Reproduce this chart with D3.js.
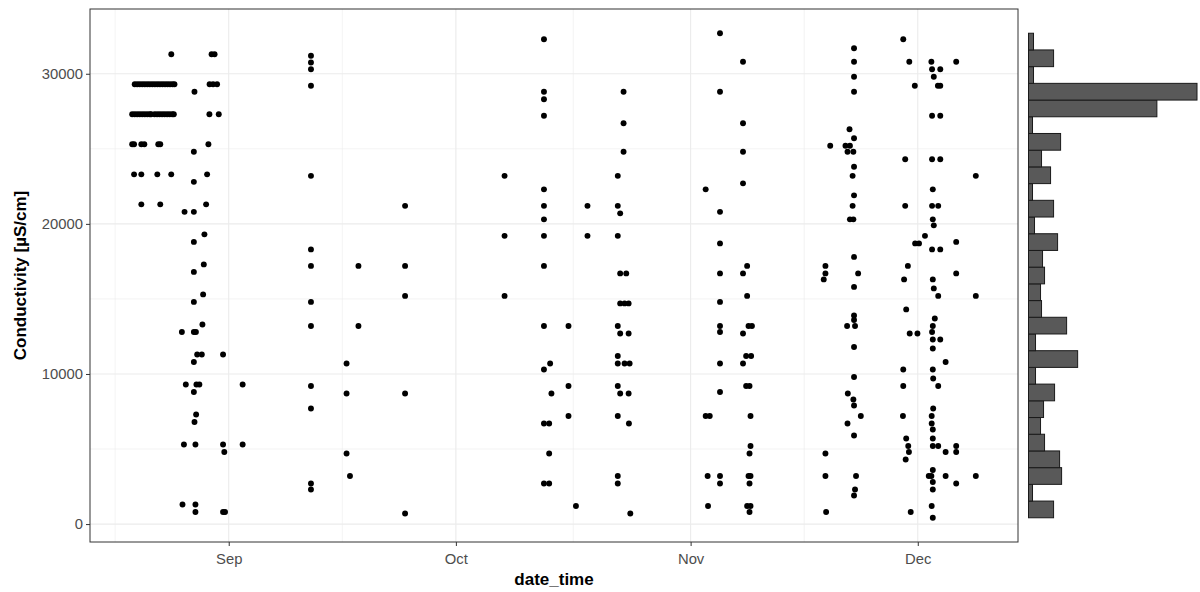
<!DOCTYPE html>
<html>
<head>
<meta charset="utf-8">
<script src="https://cdn.jsdelivr.net/npm/d3@7"></script>
<style>
  body { margin: 0; background: #fff; }
  svg { display: block; }
  text { font-family: "Liberation Sans", Arial, Helvetica, sans-serif; }
</style>
</head>
<body>
<svg id="chart" width="1200" height="592"></svg>
<script>
// Conductivity readings [date_time (UTC, "MM-DD HH:MM"), µS/cm], one list per month
const augReadings = [
  ["08-19 06:00", 27300], ["08-19 14:00", 27300], ["08-19 22:00", 27300], ["08-20 06:00", 27300],
  ["08-20 14:00", 27300], ["08-20 22:00", 27300], ["08-21 06:00", 27300], ["08-21 14:00", 27300],
  ["08-21 18:00", 27300], ["08-22 05:00", 27300], ["08-22 13:00", 27300], ["08-22 21:00", 27300],
  ["08-23 05:00", 27300], ["08-23 13:00", 27300], ["08-23 21:00", 27300], ["08-24 05:00", 27300],
  ["08-24 13:00", 27300], ["08-24 18:00", 27300], ["08-29 10:45", 27300], ["08-30 16:25", 27300],
  ["08-19 14:00", 29300], ["08-19 22:00", 29300], ["08-20 06:00", 29300], ["08-20 14:00", 29300],
  ["08-20 22:00", 29300], ["08-21 06:00", 29300], ["08-21 14:00", 29300], ["08-21 22:00", 29300],
  ["08-22 06:00", 29300], ["08-22 14:00", 29300], ["08-22 22:00", 29300], ["08-23 06:00", 29300],
  ["08-23 14:00", 29300], ["08-23 22:00", 29300], ["08-24 06:00", 29300], ["08-24 14:00", 29300],
  ["08-24 20:00", 29300], ["08-29 11:25", 29300], ["08-29 22:25", 29300], ["08-30 11:05", 29300],
  ["08-24 10:00", 31300], ["08-29 17:40", 31300], ["08-30 03:10", 31300],
  ["08-27 11:30", 28800],
  ["08-19 06:00", 25300], ["08-19 12:00", 25300], ["08-20 11:00", 25300], ["08-20 20:30", 25300],
  ["08-22 16:40", 25300], ["08-22 23:00", 25300], ["08-29 07:35", 25300],
  ["08-27 09:30", 24800],
  ["08-19 12:00", 23300], ["08-20 11:00", 23300], ["08-22 13:40", 23300], ["08-24 09:50", 23300],
  ["08-29 03:30", 23300],
  ["08-27 09:30", 22800],
  ["08-20 11:00", 21300], ["08-22 23:00", 21300], ["08-29 00:20", 21300],
  ["08-26 04:00", 20800], ["08-27 09:30", 20800],
  ["08-28 19:00", 19300], ["08-27 09:30", 18800], ["08-28 17:00", 17300], ["08-27 09:30", 16800],
  ["08-28 14:50", 15300], ["08-27 09:30", 14800], ["08-28 12:40", 13300],
  ["08-25 19:30", 12800], ["08-27 09:30", 12800], ["08-27 16:00", 12800],
  ["08-27 20:00", 11300], ["08-28 10:45", 11300], ["08-31 06:00", 11300],
  ["08-27 09:30", 10800],
  ["08-26 08:00", 9300], ["08-27 17:40", 9300], ["08-28 03:00", 9300],
  ["08-27 09:30", 8800], ["08-27 16:40", 7300], ["08-27 11:30", 6800],
  ["08-26 02:00", 5300], ["08-27 14:30", 5300], ["08-31 06:00", 5300],
  ["08-31 10:00", 4800],
  ["08-25 21:30", 1300], ["08-27 14:30", 1300],
  ["08-27 14:30", 800], ["08-31 06:00", 800], ["08-31 12:20", 800]
];

const sepReadings = [
  ["09-02 20:10", 9300], ["09-02 20:10", 5300],
  ["09-11 20:40", 31200], ["09-11 20:40", 30750], ["09-11 20:40", 30300], ["09-11 20:40", 29200],
  ["09-11 20:40", 23200], ["09-11 20:40", 18300], ["09-11 20:40", 17200], ["09-11 20:40", 14800],
  ["09-11 20:40", 13200], ["09-11 20:40", 9200], ["09-11 20:40", 7700], ["09-11 20:40", 2700],
  ["09-11 20:40", 2300],
  ["09-16 13:30", 10700], ["09-16 13:30", 8700], ["09-16 13:30", 4700],
  ["09-17 00:20", 3200],
  ["09-18 03:10", 17200], ["09-18 03:10", 13200],
  ["09-24 07:00", 21200], ["09-24 07:00", 17200], ["09-24 07:00", 15200], ["09-24 07:00", 8700],
  ["09-24 07:00", 700]
];

const octReadings = [
  ["10-07 10:20", 23200], ["10-07 10:20", 19200], ["10-07 10:20", 15200],
  ["10-12 15:10", 32300], ["10-12 15:10", 28800], ["10-12 15:10", 28300], ["10-12 15:10", 27200],
  ["10-12 15:10", 22300], ["10-12 15:10", 21200], ["10-12 15:10", 20300], ["10-12 15:10", 19200],
  ["10-12 15:10", 17200], ["10-12 15:10", 13200], ["10-12 15:10", 10300], ["10-12 15:10", 6700],
  ["10-12 15:10", 2700],
  ["10-13 07:40", 6700], ["10-13 07:40", 4700], ["10-13 07:40", 2700],
  ["10-13 10:45", 10700], ["10-13 14:50", 8700],
  ["10-15 20:55", 13200], ["10-15 20:55", 9200], ["10-15 20:55", 7200],
  ["10-16 20:35", 1200],
  ["10-18 09:10", 21200], ["10-18 09:10", 19200],
  ["10-22 09:10", 23200], ["10-22 09:10", 21200], ["10-22 09:10", 19200], ["10-22 09:10", 13200],
  ["10-22 09:10", 11200], ["10-22 09:10", 10700], ["10-22 09:10", 9200], ["10-22 09:10", 7200],
  ["10-22 09:10", 3200], ["10-22 09:10", 2700],
  ["10-22 16:45", 20700], ["10-22 16:45", 16700], ["10-22 16:45", 14700], ["10-22 16:45", 12700],
  ["10-22 16:45", 8700],
  ["10-23 03:30", 28800], ["10-23 03:30", 26700], ["10-23 03:30", 24800],
  ["10-23 06:40", 14700], ["10-23 06:40", 10700], ["10-23 12:00", 16700],
  ["10-23 19:35", 14700], ["10-23 19:35", 12700], ["10-23 19:35", 8700],
  ["10-23 20:30", 6700], ["10-23 22:40", 10700], ["10-24 00:50", 700]
];

const novReadings = [
  ["11-02 23:45", 22300], ["11-02 23:45", 7200], ["11-03 06:00", 3200], ["11-03 07:15", 1200],
  ["11-03 12:40", 7200],
  ["11-04 21:10", 32700], ["11-04 21:10", 28800], ["11-04 21:10", 20800], ["11-04 21:10", 18700],
  ["11-04 21:10", 16700], ["11-04 21:10", 14800], ["11-04 21:10", 13200], ["11-04 21:10", 12800],
  ["11-04 21:10", 10700], ["11-04 21:10", 8800], ["11-04 21:10", 3200], ["11-04 21:10", 2700],
  ["11-07 22:05", 30800], ["11-07 22:05", 26700], ["11-07 22:05", 24800], ["11-07 22:05", 22700],
  ["11-07 22:05", 16700], ["11-07 22:05", 12700], ["11-07 22:05", 10700],
  ["11-08 08:00", 11200], ["11-08 08:00", 9200],
  ["11-08 11:10", 17200], ["11-08 11:10", 15200], ["11-08 11:10", 1200],
  ["11-08 15:35", 13200], ["11-08 15:35", 3200],
  ["11-08 18:45", 9200], ["11-08 18:45", 4700], ["11-08 18:45", 2700], ["11-08 18:45", 800],
  ["11-08 21:55", 7200], ["11-08 21:55", 5200], ["11-08 21:55", 3200], ["11-08 21:55", 1200],
  ["11-08 23:50", 11200], ["11-09 02:20", 13200],
  ["11-18 14:00", 16300],
  ["11-18 19:20", 17200], ["11-18 19:20", 16700], ["11-18 19:20", 4700], ["11-18 19:20", 3200],
  ["11-18 21:30", 800],
  ["11-19 10:30", 25200],
  ["11-21 10:50", 25200], ["11-21 16:00", 13200], ["11-21 17:20", 24800], ["11-21 17:20", 6700],
  ["11-21 18:20", 8700], ["11-21 23:40", 26300],
  ["11-22 01:00", 25200], ["11-22 01:00", 20300],
  ["11-22 09:30", 23200], ["11-22 09:30", 21200],
  ["11-22 11:50", 24800], ["11-22 11:50", 20300], ["11-22 11:50", 8300],
  ["11-22 14:00", 31700], ["11-22 14:00", 30800], ["11-22 14:00", 29800], ["11-22 14:00", 28800],
  ["11-22 14:00", 25700], ["11-22 14:00", 23800], ["11-22 14:00", 21900], ["11-22 14:00", 17800],
  ["11-22 14:00", 15800], ["11-22 14:00", 13900], ["11-22 14:00", 13600], ["11-22 14:00", 11800],
  ["11-22 14:00", 9800], ["11-22 14:00", 7900], ["11-22 14:00", 5900], ["11-22 14:00", 1900],
  ["11-22 17:10", 13200], ["11-22 17:10", 2300],
  ["11-22 20:20", 3200], ["11-23 03:00", 16700], ["11-23 11:30", 7200],
  ["11-29 01:00", 7200],
  ["11-29 02:00", 32300], ["11-29 02:00", 10300], ["11-29 02:00", 9200],
  ["11-29 04:40", 16300],
  ["11-29 08:10", 24300], ["11-29 08:10", 21200],
  ["11-29 09:40", 4300],
  ["11-29 11:20", 14300], ["11-29 11:20", 5700],
  ["11-29 16:40", 17200], ["11-29 17:50", 5200], ["11-29 20:00", 4800], ["11-29 21:10", 30800],
  ["11-29 22:30", 12700], ["11-30 01:40", 800], ["11-30 14:40", 29200], ["11-30 15:40", 18700],
  ["11-30 23:00", 12700]
];

const decReadings = [
  ["12-01 04:00", 18700], ["12-01 22:50", 19200],
  ["12-02 10:50", 3200],
  ["12-02 19:10", 30800], ["12-02 19:10", 3200],
  ["12-02 20:10", 7200], ["12-02 20:10", 6700], ["12-02 20:10", 1200],
  ["12-02 21:20", 30300], ["12-02 21:20", 27200], ["12-02 21:20", 24300], ["12-02 21:20", 21200],
  ["12-02 21:20", 18300], ["12-02 21:20", 12800],
  ["12-02 23:40", 22300], ["12-02 23:40", 20300], ["12-02 23:40", 16300], ["12-02 23:40", 13200],
  ["12-02 23:40", 12300], ["12-02 23:40", 11700], ["12-02 23:40", 10300], ["12-02 23:40", 6300],
  ["12-02 23:40", 5700], ["12-02 23:40", 5200], ["12-02 23:40", 3600], ["12-02 23:40", 2800],
  ["12-02 23:40", 2300], ["12-02 23:40", 420],
  ["12-03 00:50", 9700], ["12-03 00:50", 7700],
  ["12-03 02:50", 29800], ["12-03 02:50", 19900], ["12-03 02:50", 15700],
  ["12-03 06:00", 13700], ["12-03 15:50", 29200],
  ["12-03 16:50", 21200], ["12-03 16:50", 15200], ["12-03 16:50", 9200], ["12-03 16:50", 5200],
  ["12-03 23:20", 30300], ["12-03 23:20", 29200], ["12-03 23:20", 27200], ["12-03 23:20", 24300],
  ["12-03 23:20", 18300], ["12-03 23:20", 12300],
  ["12-04 16:20", 10800], ["12-04 16:20", 4800], ["12-04 16:20", 3200],
  ["12-06 01:50", 30800], ["12-06 01:50", 18800], ["12-06 01:50", 16700], ["12-06 01:50", 5200],
  ["12-06 01:50", 4800], ["12-06 01:50", 2700],
  ["12-08 16:00", 23200], ["12-08 16:00", 15200], ["12-08 16:00", 3200]
];

// Marginal histogram: number of readings per bin, lowest conductivity bin first
// (29 equal-width bins spanning the range of the readings)
const histCounts = [25, 4, 33, 31, 16, 12, 15, 26, 7, 49, 7, 38, 13, 12, 16,
                    14, 29, 6, 25, 4, 22, 13, 32, 4, 128, 168, 5, 25, 5];

const yTickValues = [0, 10000, 20000, 30000];
const yTitle = "Conductivity [µS/cm]";
const xTitle = "date_time";

// ---------------------------------------------------------------------------
const parseTime = d3.utcParse("%Y-%m-%d %H:%M");
const readings = [augReadings, sepReadings, octReadings, novReadings, decReadings]
  .flat()
  .map(([t, v]) => ({ date: parseTime("2021-" + t), value: v }));

const panel = { left: 90, right: 1018, top: 9, bottom: 542 };
const hist = { left: 1028.5, right: 1197 };

// ggplot-like 5% expansion of the data range on both axes
function expand(extent) {
  const [a, b] = extent.map(Number);
  const pad = (b - a) * 0.05;
  return [a - pad, b + pad];
}

const xDomain = expand(d3.extent(readings, d => d.date)).map(t => new Date(t));
const valExtent = d3.extent(readings, d => d.value);
const x = d3.scaleUtc().domain(xDomain).range([panel.left, panel.right]);
const y = d3.scaleLinear().domain(expand(valExtent)).range([panel.bottom, panel.top]);

const svg = d3.select("#chart");
const gridColor = "#ebebeb";

// Minor breaks half-way between major breaks (major list extended by one step each side)
function midBreaks(major) {
  const m = major.map(Number);
  const ext = [m[0] - (m[1] - m[0]), ...m, m[m.length - 1] + (m[m.length - 1] - m[m.length - 2])];
  const out = [];
  for (let i = 0; i < ext.length - 1; i++) out.push((ext[i] + ext[i + 1]) / 2);
  return out;
}

const xMajor = x.ticks(d3.utcMonth.every(1));
const xMinor = midBreaks(xMajor).filter(t => t > xDomain[0] && t < xDomain[1]).map(t => new Date(t));
const yMinor = midBreaks(yTickValues).filter(v => v > y.domain()[0] && v < y.domain()[1]);

const grid = svg.append("g");
grid.selectAll(".xminor").data(xMinor).join("line")
  .attr("x1", d => x(d)).attr("x2", d => x(d))
  .attr("y1", panel.top).attr("y2", panel.bottom)
  .attr("stroke", gridColor).attr("stroke-width", 0.6);
grid.selectAll(".yminor").data(yMinor).join("line")
  .attr("x1", panel.left).attr("x2", panel.right)
  .attr("y1", d => y(d)).attr("y2", d => y(d))
  .attr("stroke", gridColor).attr("stroke-width", 0.6);
grid.selectAll(".xmajor").data(xMajor).join("line")
  .attr("x1", d => x(d)).attr("x2", d => x(d))
  .attr("y1", panel.top).attr("y2", panel.bottom)
  .attr("stroke", gridColor).attr("stroke-width", 1.1);
grid.selectAll(".ymajor").data(yTickValues).join("line")
  .attr("x1", panel.left).attr("x2", panel.right)
  .attr("y1", d => y(d)).attr("y2", d => y(d))
  .attr("stroke", gridColor).attr("stroke-width", 1.1);

// Points
svg.append("g").selectAll("circle").data(readings).join("circle")
  .attr("cx", d => x(d.date))
  .attr("cy", d => y(d.value))
  .attr("r", 2.95)
  .attr("fill", "#000");

// Panel border
svg.append("rect")
  .attr("x", panel.left).attr("y", panel.top)
  .attr("width", panel.right - panel.left).attr("height", panel.bottom - panel.top)
  .attr("fill", "none").attr("stroke", "#333").attr("stroke-width", 1);

// Axes
const axisColor = "#333";
const labelColor = "#4d4d4d";

const xAxis = svg.append("g")
  .attr("transform", `translate(0,${panel.bottom})`)
  .call(d3.axisBottom(x).tickValues(xMajor).tickFormat(d3.utcFormat("%b")).tickSize(4).tickPadding(4));
const yAxis = svg.append("g")
  .attr("transform", `translate(${panel.left},0)`)
  .call(d3.axisLeft(y).tickValues(yTickValues).tickFormat(d3.format("d")).tickSize(4).tickPadding(3));

[xAxis, yAxis].forEach(g => {
  g.select(".domain").remove();
  g.selectAll(".tick line").attr("stroke", axisColor).attr("stroke-width", 1);
  g.selectAll(".tick text")
    .attr("fill", labelColor)
    .style("font-size", "14.8px")
    .style("font-family", '"Liberation Sans", Arial, sans-serif');
});
xAxis.selectAll(".tick text").attr("dy", "0.95em");

// Axis titles
svg.append("text")
  .attr("x", (panel.left + panel.right) / 2).attr("y", 585)
  .attr("text-anchor", "middle")
  .style("font-size", "17px").style("font-weight", "bold")
  .attr("fill", "#000")
  .text(xTitle);

svg.append("text")
  .attr("transform", `translate(26,${(panel.top + panel.bottom) / 2}) rotate(-90)`)
  .attr("text-anchor", "middle")
  .style("font-size", "17px").style("font-weight", "bold")
  .attr("fill", "#000")
  .text(yTitle);

// Marginal histogram of conductivity, sharing the y scale
const binWidth = (valExtent[1] - valExtent[0]) / histCounts.length;
const bins = histCounts.map((n, i) => ({
  lo: valExtent[0] + i * binWidth,
  hi: valExtent[0] + (i + 1) * binWidth,
  n
}));
const c = d3.scaleLinear().domain([0, d3.max(histCounts)]).range([hist.left, hist.right]);

svg.append("g").selectAll("rect").data(bins).join("rect")
  .attr("x", c(0))
  .attr("y", d => y(d.hi))
  .attr("width", d => c(d.n) - c(0))
  .attr("height", d => y(d.lo) - y(d.hi))
  .attr("fill", "#595959")
  .attr("stroke", "#1a1a1a")
  .attr("stroke-width", 1);
</script>
</body>
</html>
